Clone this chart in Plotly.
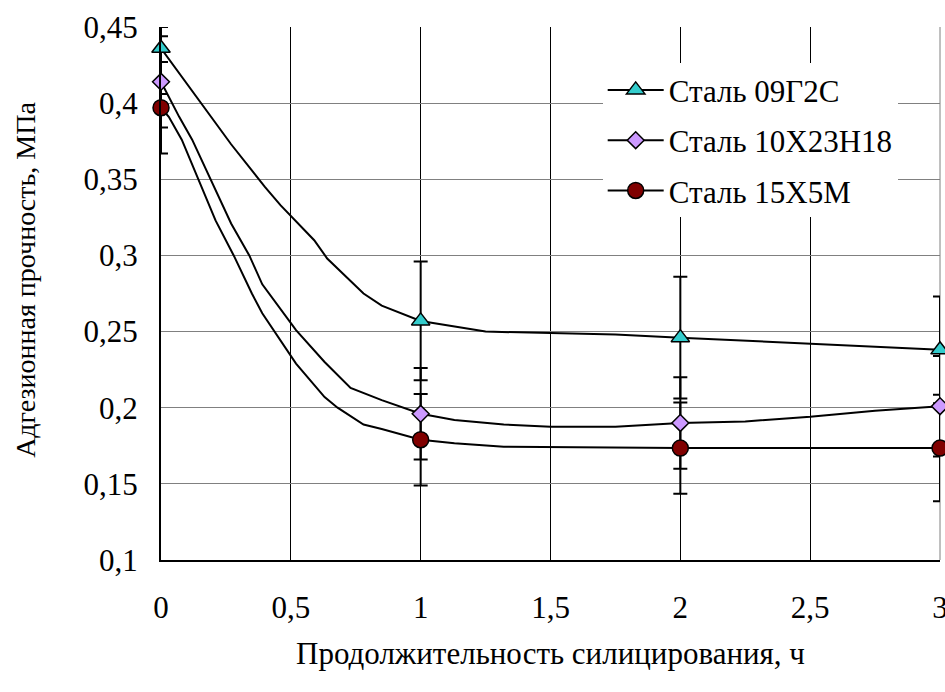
import plotly.graph_objects as go

# ---- data ----
series_names = ["Сталь 09Г2С", "Сталь 10Х23Н18", "Сталь 15Х5М"]

x_points = [0, 1, 2, 3]
y_09g2s = [0.436, 0.257, 0.246, 0.238]
y_10x23 = [0.414, 0.196, 0.190, 0.201]
y_15x5m = [0.397, 0.179, 0.1735, 0.1735]

# error bars (upper / lower)
err_up_09g2s = [0.014, 0.039, 0.04, 0.035]
err_dn_09g2s = [0.03, 0.039, 0.04, 0.035]
err_up_10x23 = [0.03, 0.03, 0.03, 0.033]
err_dn_10x23 = [0.03, 0.03, 0.03, 0.033]
err_up_15x5m = [0.03, 0.03, 0.03, 0.035]
err_dn_15x5m = [0.03, 0.03, 0.03, 0.035]

# smoothed curves
curve_x_09g2s = [0, 0.27, 0.4, 0.46, 0.59, 0.64, 0.78, 0.85, 1, 1.25, 1.5, 1.75, 2, 3]
curve_y_09g2s = [0.436, 0.373, 0.345, 0.333, 0.310, 0.298, 0.275, 0.267, 0.257, 0.250, 0.249, 0.248, 0.246, 0.238]

curve_x_10x23 = [0, 0.07, 0.12, 0.17, 0.27, 0.34, 0.39, 0.52, 0.63, 0.73, 0.85, 1, 1.13, 1.32, 1.5, 1.75, 1.9, 2, 2.25, 2.5, 2.75, 3]
curve_y_10x23 = [0.414, 0.391, 0.376, 0.358, 0.321, 0.300, 0.281, 0.251, 0.230, 0.213, 0.205, 0.196, 0.192, 0.189, 0.1875, 0.1875, 0.189, 0.190, 0.191, 0.194, 0.198, 0.201]

curve_x_15x5m = [0, 0.03, 0.08, 0.13, 0.21, 0.28, 0.35, 0.39, 0.44, 0.52, 0.63, 0.68, 0.78, 0.85, 1, 1.13, 1.32, 2, 3]
curve_y_15x5m = [0.397, 0.391, 0.376, 0.356, 0.323, 0.300, 0.275, 0.262, 0.249, 0.229, 0.207, 0.200, 0.189, 0.186, 0.179, 0.1766, 0.1744, 0.1735, 0.1735]

x_tick_vals = [0, 0.5, 1, 1.5, 2, 2.5, 3]
x_tick_text = ["0", "0,5", "1", "1,5", "2", "2,5", "3"]
y_tick_vals = [0.1, 0.15, 0.2, 0.25, 0.3, 0.35, 0.4, 0.45]
y_tick_text = ["0,1", "0,15", "0,2", "0,25", "0,3", "0,35", "0,4", "0,45"]

x_title = "Продолжительность силицирования, ч"
y_title = "Адгезионная прочность, МПа"

# ---- styles ----
FONT = "Liberation Serif, Times New Roman, serif"
FS = 31       # horizontal text
FS_Y = 28     # vertical axis title
styles = [
    dict(symbol="triangle-up", color="#33CCCC", size=16),
    dict(symbol="diamond", color="#CC99FF", size=13),
    dict(symbol="circle", color="#800000", size=16),
]

ys = [y_09g2s, y_10x23, y_15x5m]
errs = [(err_up_09g2s, err_dn_09g2s), (err_up_10x23, err_dn_10x23), (err_up_15x5m, err_dn_15x5m)]
curves = [(curve_x_09g2s, curve_y_09g2s), (curve_x_10x23, curve_y_10x23), (curve_x_15x5m, curve_y_15x5m)]

fig = go.Figure()

for (cx, cy) in curves:
    fig.add_trace(go.Scatter(x=cx, y=cy, mode="lines", line=dict(color="black", width=2),
                             showlegend=False, hoverinfo="skip"))

for y, (eu, ed) in zip(ys, errs):
    fig.add_trace(go.Scatter(x=x_points, y=y, mode="markers",
                             marker=dict(size=2, opacity=0),
                             error_y=dict(type="data", symmetric=False, array=eu, arrayminus=ed,
                                          visible=True, color="black", thickness=2, width=7),
                             showlegend=False, cliponaxis=False, hoverinfo="skip"))

for y, st in zip(ys, styles):
    fig.add_trace(go.Scatter(x=x_points, y=y, mode="markers",
                             marker=dict(symbol=st["symbol"], color=st["color"], size=st["size"],
                                         line=dict(color="black", width=1.5)),
                             showlegend=False, cliponaxis=False))

for i, (name, st) in enumerate(zip(series_names, styles)):
    fig.add_trace(go.Scatter(x=[None], y=[None], mode="lines+markers", name=name,
                             legendgroup="g%d" % i,
                             line=dict(color="black", width=2),
                             marker=dict(symbol=st["symbol"], color=st["color"], size=st["size"],
                                         line=dict(color="black", width=1.5))))

fig.update_layout(
    width=945, height=692,
    margin=dict(l=161, r=5, t=27, b=132, autoexpand=False),
    paper_bgcolor="white", plot_bgcolor="white",
    font=dict(family=FONT, size=FS, color="black"),
    showlegend=True,
    legend=dict(x=0.567, y=0.932, xanchor="left", yanchor="top",
                bgcolor="white", borderwidth=0, font=dict(family=FONT, size=FS),
                tracegroupgap=7, itemwidth=56),
    xaxis=dict(range=[0, 3], tickvals=x_tick_vals, ticktext=x_tick_text,
               showgrid=True, gridcolor="black", gridwidth=1,
               showline=True, linecolor="black", linewidth=2,
               zeroline=False, ticks="", ticklabelstandoff=19,
               ticklabeloverflow="allow", automargin=False,
               title=dict(text=x_title, standoff=18, font=dict(family=FONT, size=FS))),
    yaxis=dict(range=[0.1, 0.45], tickvals=y_tick_vals, ticktext=y_tick_text,
               showgrid=True, gridcolor="#808080", gridwidth=1,
               showline=True, linecolor="black", linewidth=2,
               zeroline=False, ticks="", ticklabelstandoff=15, automargin=False),
    annotations=[dict(text=y_title, xref="paper", yref="paper", x=-0.175, y=0.525,
                      xanchor="center", yanchor="middle", textangle=-90, showarrow=False,
                      font=dict(family=FONT, size=FS_Y))],
    shapes=[dict(type="line", xref="paper", yref="paper", x0=1, x1=1, y0=0, y1=1,
                 line=dict(color="#808080", width=1), layer="below")],
)

post = (
    "document.documentElement.style.overflow='hidden';"
    "document.body.style.margin='0';document.body.style.overflow='hidden';"
    "var gd=document.querySelector('.plotly-graph-div');"
    "if(gd){gd.style.overflow='hidden';"
    "var svgs=gd.querySelectorAll('svg.main-svg');"
    "for(var i=0;i<svgs.length;i++){svgs[i].style.overflow='hidden';}}"
)

fig.write_html("out.html", config={"displayModeBar": False}, post_script=post)
